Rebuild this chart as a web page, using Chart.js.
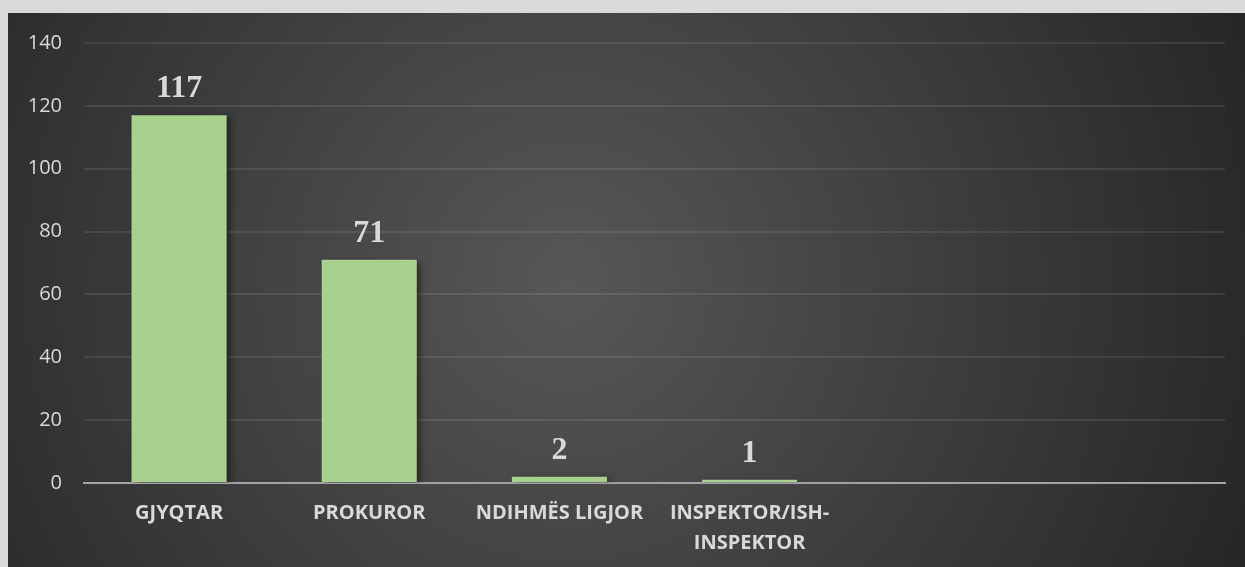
<!DOCTYPE html>
<html>
<head>
<meta charset="utf-8">
<script src="https://cdn.jsdelivr.net/npm/chart.js@4.4.1/dist/chart.umd.min.js"></script>
<style>
    html, body { margin: 0; padding: 0; background: #d9d9d9; overflow: hidden; }
    #wrap { position: absolute; left: 8px; top: 13px; width: 1237px; height: 554px; }
</style>
</head>
<body>
<div id="wrap"><canvas id="roleChart"></canvas></div>
<script>
// chart data
const categories = ["GJYQTAR", "PROKUROR", "NDIHMËS LIGJOR", ["INSPEKTOR/ISH-", "INSPEKTOR"], "", ""];
const counts = [117, 71, 2, 1, null, null];
const yTicks = [0, 20, 40, 60, 80, 100, 120, 140];

const textColor = "#d9d9d9";

// dark radial background behind the whole canvas
const backgroundPlugin = {
    id: "darkBackground",
    beforeDraw(chart) {
        const ctx = chart.ctx;
        const w = chart.width, h = chart.height;
        const g = ctx.createRadialGradient(560, 270, 0, 560, 270, 760);
        g.addColorStop(0, "#575757");
        g.addColorStop(1, "#242424");
        ctx.save();
        ctx.fillStyle = g;
        ctx.fillRect(0, 0, w, h);
        ctx.restore();
    }
};

// soft shadow under the bars
const shadowPlugin = {
    id: "barShadow",
    beforeDatasetsDraw(chart) {
        const ctx = chart.ctx;
        ctx.save();
        ctx.shadowColor = "rgba(0,0,0,0.55)";
        ctx.shadowBlur = 7;
        ctx.shadowOffsetX = 3;
        ctx.shadowOffsetY = 2;
    },
    afterDatasetsDraw(chart) {
        chart.ctx.restore();
    }
};

// value labels above bars
const valueLabels = {
    id: "valueLabels",
    afterDatasetsDraw(chart) {
        const ctx = chart.ctx;
        const meta = chart.getDatasetMeta(0);
        ctx.save();
        ctx.font = "bold 32px 'Liberation Serif', 'DejaVu Serif', serif";
        ctx.fillStyle = textColor;
        ctx.textAlign = "center";
        ctx.textBaseline = "alphabetic";
        meta.data.forEach((bar, i) => {
            if (counts[i] === null) return;
            ctx.fillText(String(counts[i]), bar.x, bar.y - 18);
        });
        ctx.restore();
    }
};

new Chart(document.getElementById("roleChart"), {
    type: "bar",
    data: {
        labels: categories,
        datasets: [{
            data: counts,
            backgroundColor: "#a9d18e",
            borderWidth: 0,
            barPercentage: 0.5,
            categoryPercentage: 1.0
        }]
    },
    options: {
        responsive: true,
        maintainAspectRatio: false,
        animation: false,
        layout: { padding: { top: 0, right: 20, left: 0, bottom: 0 } },
        plugins: {
            legend: { display: false },
            tooltip: { enabled: false }
        },
        scales: {
            x: {
                grid: { display: false, drawTicks: false },
                border: { display: true, color: "#a3a3a3", width: 2 },
                ticks: {
                    color: textColor,
                    font: { family: "'Open Sans', 'Noto Sans', sans-serif", size: 20, weight: "bold", lineHeight: 1.5 },
                    padding: 15,
                    maxRotation: 0,
                    autoSkip: false
                },
                afterFit(scale) { scale.height = 84; }
            },
            y: {
                min: 0,
                max: 140,
                afterBuildTicks(scale) { scale.ticks = yTicks.map(v => ({ value: v })); },
                grid: {
                    drawTicks: false,
                    lineWidth: 2,
                    color: ctx => ctx.tick && ctx.tick.value === 0 ? "rgba(0,0,0,0)" : "rgba(255,255,255,0.09)"
                },
                border: { display: false },
                ticks: {
                    color: textColor,
                    // lineHeight keeps the top label padding at ~30px
                    font: { family: "'Open Sans', 'Noto Sans', sans-serif", size: 20, lineHeight: 0.8 },
                    padding: 22
                },
                afterFit(scale) { scale.width = 76; }
            }
        }
    },
    plugins: [backgroundPlugin, shadowPlugin, valueLabels]
});
</script>
</body>
</html>
